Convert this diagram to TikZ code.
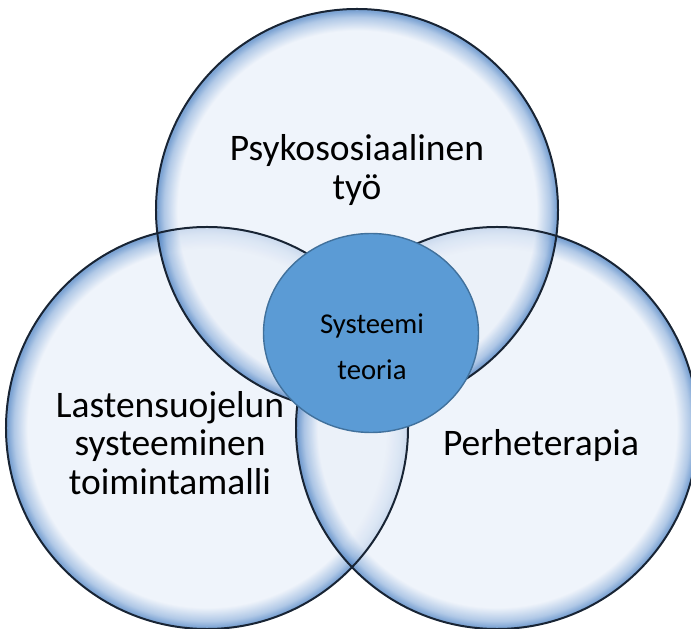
\documentclass[tikz,border=0pt]{standalone}
\usepackage{fontspec}
\setmainfont{Carlito}
\usetikzlibrary{shapes.geometric}
\definecolor{bubin}{RGB}{234,240,249}
\definecolor{bubmid}{RGB}{150,182,222}
\definecolor{bubedge}{RGB}{80,132,196}
\definecolor{bubline}{RGB}{24,36,52}
\definecolor{corefill}{RGB}{91,155,213}
\definecolor{coreline}{RGB}{65,113,156}
\pgfdeclareradialshading{bubble}{\pgfpoint{0bp}{0bp}}{color(0bp)=(bubin); color(22.3bp)=(bubin); color(24bp)=(bubmid); color(24.8bp)=(bubedge); color(25bp)=(bubedge); color(50bp)=(bubedge)}

\begin{document}
\begin{tikzpicture}[x=0.03cm, y=-0.03cm,
  bubbleshape/.style = {circle, minimum size=12.06cm, inner sep=0pt, shading=bubble, fill opacity=0.75},
  bubblerim/.style = {draw=bubline, line width=1.7pt},
  bigtext/.style = {align=center, font=\fontsize{32}{33}\selectfont},
  coretext/.style = {align=center, font=\fontsize{24.5}{39}\selectfont}]
\useasboundingbox (0,0) rectangle (691,629);
\node[bubbleshape] (lsm) at (207,428) {};
\node[bubbleshape] (perhe) at (497,428) {};
\node[bubbleshape] (tyo) at (357,210) {};
\foreach \n in {lsm,perhe,tyo}
  \draw[bubblerim] (\n.center) circle (6.03cm);
\node[ellipse, minimum width=6.45cm, minimum height=5.97cm, inner sep=0pt, fill=corefill, draw=coreline, line width=1.2pt] (core) at (371,333) {};
\node[bigtext] (tyotxt) at (357,170) {Psykososiaalinen\\työ};
\node[bigtext] (lsmtxt) at (170,443) {Lastensuojelun\\systeeminen\\toimintamalli};
\node[bigtext] (perhetxt) at (541,446) {Perheterapia};
\node[coretext] (coretxt) at (372,347) {Systeemi\\teoria};
\end{tikzpicture}
\end{document}
